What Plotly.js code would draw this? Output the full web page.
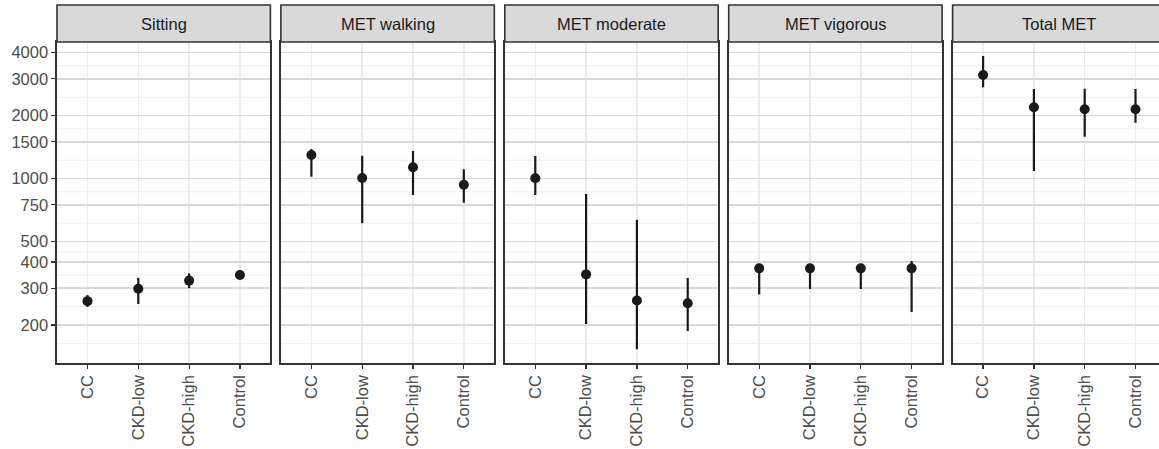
<!DOCTYPE html>
<html>
<head>
<meta charset="utf-8">
<script src="https://cdn.plot.ly/plotly-3.0.1.min.js"></script>
<style>
html,body{margin:0;padding:0;overflow:hidden;background:#fff;}
#chart{width:1166px;height:449px;}
</style>
</head>
<body>
<div id="chart"></div>
<script>
const groups = ['CC', 'CKD-low', 'CKD-high', 'Control'];
const panelNames = ['Sitting', 'MET walking', 'MET moderate', 'MET vigorous', 'Total MET'];

const sittingMid = [260, 298, 326, 347];
const sittingLo  = [244, 252, 300, 331];
const sittingHi  = [278, 336, 353, 366];

const walkingMid = [1298, 1008, 1134, 936];
const walkingLo  = [1022, 612, 836, 768];
const walkingHi  = [1387, 1288, 1357, 1109];

const moderateMid = [1005, 349, 262, 254];
const moderateLo  = [836, 202, 153, 187];
const moderateHi  = [1284, 845, 637, 335];

const vigorousMid = [373, 373, 373, 373];
const vigorousLo  = [280, 297, 297, 231];
const vigorousHi  = [378, 378, 378, 404];

const totalMid = [3131, 2194, 2146, 2146];
const totalLo  = [2734, 1088, 1587, 1852];
const totalHi  = [3857, 2683, 2692, 2683];

const yTicks = [200, 300, 400, 500, 750, 1000, 1500, 2000, 3000, 4000];

const series = [
  [sittingMid, sittingLo, sittingHi],
  [walkingMid, walkingLo, walkingHi],
  [moderateMid, moderateLo, moderateHi],
  [vigorousMid, vigorousLo, vigorousHi],
  [totalMid, totalLo, totalHi]
];

const yRange = [2.1195, 3.6531];

// minor breaks: log-midpoints between majors, plus one extended below
const minorTicks = [];
for (let i = 0; i < yTicks.length - 1; i++) minorTicks.push(Math.sqrt(yTicks[i] * yTicks[i + 1]));
const extLow = yTicks[0] * yTicks[0] / yTicks[1];
minorTicks.unshift(Math.sqrt(extLow * yTicks[0]));
const toFrac = v => (Math.log10(v) - yRange[0]) / (yRange[1] - yRange[0]);

const W = 1166, H = 449;
const mL = 57, mR = 0, mT = 42, mB = 86;
const plotW = W - mL - mR, plotH = H - mT - mB;
const panelW = 213.4, gap = (plotW - 5 * panelW) / 4;

const ink = '#1A1A1A';
const traces = [];
const layout = {
  width: W, height: H,
  margin: {l: mL, r: mR, t: mT, b: mB, pad: 0},
  paper_bgcolor: '#FFFFFF', plot_bgcolor: 'rgba(0,0,0,0)',
  showlegend: false,
  font: {family: 'Liberation Sans, Arial, sans-serif', size: 16.5, color: '#4D4D4D'},
  shapes: [], annotations: []
};

const stripH = 37 / plotH;

series.forEach((s, i) => {
  const [mid, lo, hi] = s;
  const k = i === 0 ? '' : String(i + 1);
  traces.push({
    type: 'scatter', mode: 'markers',
    x: groups, y: mid,
    xaxis: 'x' + k, yaxis: 'y' + k,
    marker: {size: 10, color: ink},
    error_y: {
      type: 'data', symmetric: false,
      array: hi.map((h, j) => h - mid[j]),
      arrayminus: lo.map((l, j) => mid[j] - l),
      color: ink, thickness: 2.2, width: 0
    },
    hoverinfo: 'x+y'
  });
  const x0 = i * (panelW + gap) / plotW;
  const x1 = (i * (panelW + gap) + panelW) / plotW;
  layout['xaxis' + k] = {
    domain: [x0, x1], anchor: 'y' + k,
    type: 'category', categoryorder: 'array', categoryarray: groups,
    range: [-0.6, 3.6],
    showgrid: true, gridcolor: '#EBEBEB', gridwidth: 1.5,
    showline: true, mirror: true, linecolor: '#333333', linewidth: 1.6,
    ticks: 'outside', ticklen: 4, tickwidth: 1.2, tickcolor: '#333333',
    tickangle: -90, tickfont: {size: 16.5, color: '#4D4D4D'},
    zeroline: false, fixedrange: true
  };
  layout['yaxis' + k] = {
    domain: [0, 1], anchor: 'x' + k,
    type: 'log', range: yRange,
    tickmode: 'array', tickvals: yTicks, ticktext: yTicks.map(String),
    showticklabels: i === 0,
    showgrid: true, gridcolor: '#D9D9D9', gridwidth: 1.4,
    showline: true, mirror: true, linecolor: '#333333', linewidth: 1.6,
    ticks: i === 0 ? 'outside' : '', ticklen: 4, tickwidth: 1.2, tickcolor: '#333333',
    tickfont: {size: 16.5, color: '#4D4D4D'},
    zeroline: false, fixedrange: true
  };
  minorTicks.forEach(v => {
    const f = toFrac(v);
    if (f <= 0 || f >= 1) return;
    layout.shapes.push({
      type: 'line', layer: 'below',
      xref: 'x' + k + ' domain', yref: 'y' + k + ' domain',
      x0: 0, x1: 1, y0: f, y1: f,
      line: {color: '#EDEDED', width: 0.9}
    });
  });
  layout.shapes.push({
    type: 'rect', xref: 'x' + k + ' domain', yref: 'paper',
    x0: 0, x1: 1, y0: 1, y1: 1 + stripH,
    fillcolor: '#D9D9D9', line: {color: '#333333', width: 1.6}
  });
  layout.annotations.push({
    xref: 'x' + k + ' domain', yref: 'paper',
    x: 0.5, y: 1 + stripH / 2, xanchor: 'center', yanchor: 'middle',
    text: panelNames[i], showarrow: false,
    font: {size: 16.5, color: '#1A1A1A'}
  });
});

Plotly.newPlot('chart', traces, layout, {displayModeBar: false, staticPlot: true});
</script>
</body>
</html>
